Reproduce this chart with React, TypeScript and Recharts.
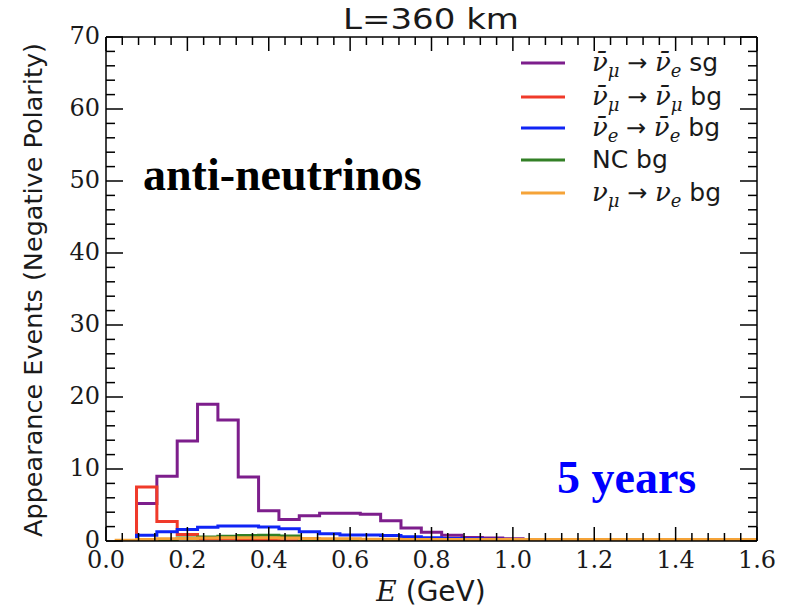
import React from 'react';
import { LineChart, Line, XAxis, YAxis, Legend } from 'recharts';

// ---------- data ----------
const binEdges = [
  0.025, 0.075, 0.125, 0.175, 0.225, 0.275, 0.325, 0.375, 0.425, 0.475, 0.525,
  0.575, 0.625, 0.675, 0.725, 0.775, 0.825, 0.875, 0.925, 0.975, 1.025, 1.075,
  1.125, 1.175, 1.225, 1.275, 1.325, 1.375, 1.425, 1.475, 1.525, 1.575, 1.625,
];

const sgNumubarToNuebar = [
  0, 5.2, 9.0, 13.9, 19.0, 16.8, 8.9, 4.2, 3.0, 3.5, 3.85, 3.85, 3.7, 2.8, 1.8,
  1.2, 0.8, 0.5, 0.4, 0.3, 0.2, 0.15, 0.1, 0.1, 0.05, 0.05, 0.04, 0.03, 0.03,
  0.02, 0.02, 0.02,
];
const bgNumubarToNumubar = [
  0, 7.5, 2.7, 0.9, 0.3, 0.3, 0.2, 0.1, 0.05, 0.02, 0, 0, 0, 0, 0, 0, 0, 0, 0,
  0, 0, 0, 0, 0, 0, 0, 0, 0, 0, 0, 0, 0,
];
const bgNuebarToNuebar = [
  0, 0.8, 1.3, 1.6, 1.9, 2.1, 2.1, 1.95, 1.7, 1.3, 1.0, 0.85, 0.85, 0.75, 0.6,
  0.45, 0.35, 0.3, 0.25, 0.2, 0.15, 0.12, 0.1, 0.08, 0.06, 0.05, 0.04, 0.03,
  0.03, 0.02, 0.02, 0.02,
];
const bgNC = [
  0, 0, 0.2, 0.4, 0.55, 0.65, 0.75, 0.8, 0.7, 0.2, 0.1, 0.05, 0.03, 0.02, 0, 0,
  0, 0, 0, 0, 0, 0, 0, 0, 0, 0, 0, 0, 0, 0, 0, 0,
];
const bgNumuToNue = [
  0.1, 0.2, 0.3, 0.35, 0.4, 0.45, 0.45, 0.45, 0.4, 0.35, 0.3, 0.3, 0.25,
  0.25, 0.2, 0.2, 0.2, 0.2, 0.2, 0.2, 0.2, 0.2, 0.2, 0.2, 0.2, 0.2,
  0.2, 0.2, 0.2, 0.2, 0.2, 0.2,
];

const seriesNames = ['sg_mubar_ebar', 'bg_mubar_mubar', 'bg_ebar_ebar', 'bg_nc', 'bg_mu_e'];
const seriesColors = ['#7d1e8c', '#f03a2a', '#1025f5', '#338026', '#f5a338'];
const seriesValues = [sgNumubarToNuebar, bgNumubarToNumubar, bgNuebarToNuebar, bgNC, bgNumuToNue];

const xMajorTicks = [0, 0.2, 0.4, 0.6, 0.8, 1.0, 1.2, 1.4, 1.6];
const xTickLabels = ['0.0', '0.2', '0.4', '0.6', '0.8', '1.0', '1.2', '1.4', '1.6'];
const yMajorTicks = [0, 10, 20, 30, 40, 50, 60, 70];
const yTickLabels = ['0', '10', '20', '30', '40', '50', '60', '70'];

const xAllTicks = Array.from({ length: 41 }, (_, i) => Number((i * 0.04).toFixed(2)));
const yAllTicks = Array.from({ length: 36 }, (_, i) => i * 2);

// histogram outline points (stepAfter)
const toSteps = (vals: number[]) => {
  const pts: { x: number; y: number }[] = [{ x: binEdges[0], y: 0 }];
  vals.forEach((v, k) => pts.push({ x: binEdges[k], y: v }));
  pts.push({ x: binEdges[binEdges.length - 1], y: 0 });
  return pts;
};

// ---------- ticks ----------
const isMajorX = (v: number) => xMajorTicks.some((m) => Math.abs(m - v) < 1e-6);
const isMajorY = (v: number) => yMajorTicks.includes(v);
const TICK_COLOR = '#000';
const LABEL_COLOR = '#1a1a1a';

const BottomTick = (p: any) => {
  const { x, y, payload } = p;
  const major = isMajorX(payload.value);
  const idx = xMajorTicks.findIndex((m) => Math.abs(m - payload.value) < 1e-6);
  return (
    <g>
      <line x1={x} x2={x} y1={y} y2={y - (major ? 14 : 8)} stroke={TICK_COLOR} strokeWidth={1.5} />
      {major && (
        <text x={x} y={y + 27} textAnchor="middle" fontFamily="DejaVu Serif" fontSize={24} fill={LABEL_COLOR}>
          {xTickLabels[idx]}
        </text>
      )}
    </g>
  );
};
const TopTick = (p: any) => {
  const { x, y, payload } = p;
  const major = isMajorX(payload.value);
  return <line x1={x} x2={x} y1={y} y2={y + (major ? 14 : 8)} stroke={TICK_COLOR} strokeWidth={1.5} />;
};
const LeftTick = (p: any) => {
  const { x, y, payload } = p;
  const major = isMajorY(payload.value);
  const idx = yMajorTicks.indexOf(payload.value);
  return (
    <g>
      <line x1={x} x2={x + (major ? 17 : 9)} y1={y} y2={y} stroke={TICK_COLOR} strokeWidth={1.5} />
      {major && (
        <text x={x - 6} y={y + 7} textAnchor="end" fontFamily="DejaVu Serif" fontSize={24} fill={LABEL_COLOR}>
          {yTickLabels[idx]}
        </text>
      )}
    </g>
  );
};
const RightTick = (p: any) => {
  const { x, y, payload } = p;
  const major = isMajorY(payload.value);
  return <line x1={x} x2={x - (major ? 17 : 9)} y1={y} y2={y} stroke={TICK_COLOR} strokeWidth={1.5} />;
};

// ---------- legend ----------
type Tok = { t: string; k: 'm' | 's' | 'o' | 't' };
const legendTokens: Record<string, Tok[]> = {
  sg_mubar_ebar: [
    { t: 'ν\u0304', k: 'm' }, { t: 'μ', k: 's' }, { t: ' → ', k: 'o' },
    { t: 'ν\u0304', k: 'm' }, { t: 'e', k: 's' }, { t: ' sg', k: 't' },
  ],
  bg_mubar_mubar: [
    { t: 'ν\u0304', k: 'm' }, { t: 'μ', k: 's' }, { t: ' → ', k: 'o' },
    { t: 'ν\u0304', k: 'm' }, { t: 'μ', k: 's' }, { t: ' bg', k: 't' },
  ],
  bg_ebar_ebar: [
    { t: 'ν\u0304', k: 'm' }, { t: 'e', k: 's' }, { t: ' → ', k: 'o' },
    { t: 'ν\u0304', k: 'm' }, { t: 'e', k: 's' }, { t: ' bg', k: 't' },
  ],
  bg_nc: [{ t: 'NC bg', k: 't' }],
  bg_mu_e: [
    { t: 'ν', k: 'm' }, { t: 'μ', k: 's' }, { t: ' → ', k: 'o' },
    { t: 'ν', k: 'm' }, { t: 'e', k: 's' }, { t: ' bg', k: 't' },
  ],
};

const renderTokens = (toks: Tok[]) => {
  let prevSub = false;
  return toks.map((tok, i) => {
    let dy = 0;
    if (tok.k === 's' && !prevSub) dy = 6;
    if (tok.k !== 's' && prevSub) dy = -6;
    prevSub = tok.k === 's';
    const common: any = { key: i, dy: dy || undefined };
    if (tok.k === 'm')
      return <tspan {...common} fontFamily="DejaVu Serif" fontStyle="italic" fontSize={26}>{tok.t}</tspan>;
    if (tok.k === 's')
      return <tspan {...common} fontFamily="DejaVu Serif" fontStyle="italic" fontSize={18}>{tok.t}</tspan>;
    if (tok.k === 'o')
      return <tspan {...common} fontFamily="DejaVu Sans" fontSize={24} style={{ whiteSpace: 'pre' }}>{tok.t}</tspan>;
    return <tspan {...common} fontFamily="DejaVu Sans" fontSize={25} style={{ whiteSpace: 'pre' }}>{tok.t}</tspan>;
  });
};

const rowY = [23, 57, 88, 120, 153];
const renderLegend = (props: any) => {
  const payload = props.payload || [];
  const colorOf = (name: string, i: number) => {
    const e = payload.find((p: any) => p.value === name);
    return e ? e.color : seriesColors[i];
  };
  return (
    <svg width={250} height={175} style={{ display: 'block' }}>
      {seriesNames.map((name, i) => (
        <g key={name}>
          <line x1={16} x2={60} y1={rowY[i]} y2={rowY[i]} stroke={colorOf(name, i)} strokeWidth={3} />
          <text x={87} y={rowY[i] + 8} fill="#1a1a1a" xmlSpace="preserve">
            {renderTokens(legendTokens[name])}
          </text>
        </g>
      ))}
    </svg>
  );
};

export default function App() {
  return (
    <div style={{ position: 'absolute', left: 0, top: 0, width: 786, height: 611, background: '#fff' }}>
      <LineChart width={786} height={611} margin={{ top: 27, right: 19, bottom: 40, left: 66 }}>
        <XAxis
          xAxisId="bottom"
          dataKey="x"
          type="number"
          domain={[0, 1.6]}
          allowDataOverflow
          ticks={xAllTicks}
          interval={0}
          height={30}
          tickSize={0}
          tickMargin={0}
          tick={(p: any) => <BottomTick {...p} />}
          axisLine={{ stroke: '#000', strokeWidth: 1.5 }}
          tickLine={false}
        />
        <XAxis
          xAxisId="top"
          orientation="top"
          dataKey="x"
          type="number"
          domain={[0, 1.6]}
          allowDataOverflow
          ticks={xAllTicks}
          interval={0}
          height={10}
          tickSize={0}
          tickMargin={0}
          tick={(p: any) => <TopTick {...p} />}
          axisLine={{ stroke: '#000', strokeWidth: 1.5 }}
          tickLine={false}
        />
        <YAxis
          yAxisId="left"
          type="number"
          domain={[0, 70]}
          allowDataOverflow
          ticks={yAllTicks}
          interval={0}
          width={40}
          tickSize={0}
          tickMargin={0}
          tick={(p: any) => <LeftTick {...p} />}
          axisLine={{ stroke: '#000', strokeWidth: 1.5 }}
          tickLine={false}
        />
        <YAxis
          yAxisId="right"
          orientation="right"
          type="number"
          domain={[0, 70]}
          allowDataOverflow
          ticks={yAllTicks}
          interval={0}
          width={10}
          tickSize={0}
          tickMargin={0}
          tick={(p: any) => <RightTick {...p} />}
          axisLine={{ stroke: '#000', strokeWidth: 1.5 }}
          tickLine={false}
        />
        {seriesNames.map((name, i) => (
          <Line
            key={name}
            name={name}
            xAxisId="bottom"
            yAxisId="left"
            data={toSteps(seriesValues[i])}
            dataKey="y"
            type="stepAfter"
            stroke={seriesColors[i]}
            strokeWidth={3}
            dot={false}
            activeDot={false}
            isAnimationActive={false}
          />
        ))}
        <Line
          name="frame"
          xAxisId="top"
          yAxisId="right"
          data={toSteps(sgNumubarToNuebar)}
          dataKey="y"
          stroke="none"
          dot={false}
          activeDot={false}
          legendType="none"
          isAnimationActive={false}
        />
        <Legend
          layout="vertical"
          align="center"
          verticalAlign="middle"
          wrapperStyle={{ position: 'absolute', left: 505, top: 40, width: 250, height: 175 }}
          content={renderLegend}
        />
        <text x={431} y={29} textAnchor="middle" fontFamily="DejaVu Sans" fontSize={29} fill="#1a1a1a" textLength={176} lengthAdjust="spacingAndGlyphs">
          L=360 km
        </text>
        <text x={431} y={601} textAnchor="middle" fontSize={28} fill="#1a1a1a">
          <tspan fontFamily="DejaVu Serif" fontStyle="italic">E</tspan>
          <tspan fontFamily="DejaVu Sans" style={{ whiteSpace: 'pre' }}> (GeV)</tspan>
        </text>
        <text
          x={42}
          y={290}
          transform="rotate(-90 42 290)"
          textAnchor="middle"
          fontFamily="DejaVu Sans"
          fontSize={25}
          fill="#1a1a1a"
          textLength={494}
          lengthAdjust="spacingAndGlyphs"
        >
          Appearance Events (Negative Polarity)
        </text>
        <text x={143} y={190} fontFamily="Liberation Serif" fontWeight="bold" fontSize={46} fill="#000">
          anti-neutrinos
        </text>
        <text x={557} y={493} fontFamily="Liberation Serif" fontWeight="bold" fontSize={46} fill="#0000ff">
          5 years
        </text>
      </LineChart>
    </div>
  );
}
